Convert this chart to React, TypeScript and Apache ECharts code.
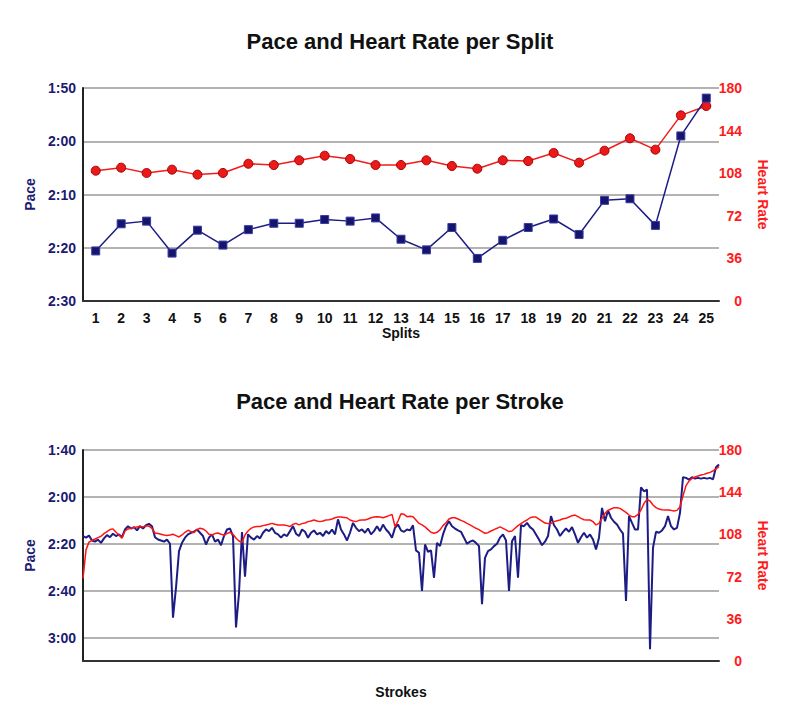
import React, { useEffect, useRef } from "react";
import * as echarts from "echarts";

// ---- Data ----
const splits = ["1","2","3","4","5","6","7","8","9","10","11","12","13","14","15","16","17","18","19","20","21","22","23","24","25"];
// pace in seconds per 500m
const splitPace = [140.6,135.5,135.0,141.0,136.7,139.5,136.6,135.4,135.4,134.7,135.0,134.4,138.4,140.4,136.2,142.0,138.6,136.2,134.6,137.5,131.1,130.8,135.8,119.0,111.9];
const splitHR = [110.1,112.7,108.2,111.0,106.8,108.2,116.0,114.9,118.9,122.8,120.0,114.9,114.9,118.9,114.1,111.8,118.9,118.3,125.1,116.9,127.0,137.5,127.9,156.9,164.8];

const strokePace = [
  136.7,137.4,136.5,138.6,139.1,138.2,139.6,137.7,136.3,137.2,
  135.7,136.7,136.0,137.2,133.9,132.5,133.5,132.9,134.3,132.5,
  133.5,132.1,131.5,132.5,137.2,138.2,138.6,139.1,138.2,140.0,
  171.5,158.7,143.1,139.6,137.4,136.0,135.3,134.9,133.9,135.3,
  136.7,140.3,137.4,136.0,139.1,138.2,140.6,136.7,133.9,133.5,
  136.7,175.7,
  161.0,135.0,154.0,136.0,137.4,138.2,136.7,137.7,135.3,133.9,
  134.6,133.2,135.3,136.0,137.4,136.0,136.7,134.6,132.5,135.7,
  136.7,133.9,134.9,137.4,135.3,134.3,136.0,135.3,136.7,134.6,
  135.7,133.9,136.0,129.6,133.9,136.0,138.6,135.3,131.1,133.2,
  134.6,133.9,135.3,133.5,136.0,134.6,132.5,134.6,131.8,133.9,
  135.3,137.4,133.2,131.8,
  134.3,134.9,133.9,134.3,132.1,142.8,143.8,160.1,140.3,143.4,
  142.8,154.5,139.6,141.0,136.0,132.5,130.4,132.5,133.5,134.3,
  134.9,137.4,140.0,139.1,138.6,139.6,141.0,165.8,146.0,143.1,
  142.4,141.0,140.0,137.4,136.0,138.6,160.1,138.9,136.7,154.5,
  132.1,132.5,131.1,132.9,133.9,136.0,138.2,140.6,139.1,136.7,
  128.2,132.1,133.9,136.7,
  134.9,133.5,134.9,132.9,136.0,139.6,137.2,135.3,137.4,136.0,
  138.2,142.4,137.4,124.7,130.4,125.8,128.9,130.6,131.8,133.9,
  135.7,164.4,128.2,131.1,133.9,133.9,115.9,117.6,116.9,185.0,
  141.7,134.9,135.3,134.3,132.5,128.2,132.5,133.9,133.2,126.8,
  111.6,111.9,112.6,111.6,112.2,111.9,112.2,111.9,112.2,111.9,
  112.5,107.4,106.2
];

const strokeHR = [
  70.5,94.8,101.4,103.0,104.1,105.3,106.4,108.7,110.4,112.1,
  112.7,109.8,107.5,104.7,110.9,112.7,113.2,113.8,114.4,115.0,
  114.4,115.3,115.0,113.2,109.2,108.7,108.1,107.5,107.0,107.5,
  108.1,107.0,105.8,107.5,109.8,111.5,110.4,109.5,112.1,113.2,
  112.7,110.9,108.1,107.5,108.7,109.2,108.1,107.5,108.7,109.8,
  108.1,104.7,
  102.4,101.2,107.5,110.9,113.2,114.4,114.7,114.7,115.5,116.1,
  116.6,117.4,116.6,116.1,116.1,116.1,115.5,114.7,116.6,117.4,
  116.1,117.2,117.7,118.9,119.4,120.3,119.4,118.9,119.4,120.3,
  120.5,121.1,122.2,122.8,122.8,122.5,122.2,120.3,119.4,118.9,
  120.0,120.3,120.3,121.1,122.2,122.8,123.1,122.8,122.2,123.1,
  124.0,125.1,114.7,119.4,
  125.6,125.1,123.1,123.4,123.1,120.3,117.4,116.1,114.4,112.1,
  109.8,109.0,109.8,111.8,115.5,118.0,121.1,122.2,122.2,121.1,
  120.0,118.9,117.4,116.1,114.7,113.2,112.1,110.4,109.0,109.5,
  110.9,112.1,113.2,114.4,113.2,111.8,110.4,110.9,113.2,115.5,
  117.2,118.9,120.3,122.2,122.8,122.8,121.1,119.4,117.7,117.2,
  117.4,118.9,119.7,120.3,
  121.4,121.7,122.8,124.0,124.5,123.1,121.7,120.5,120.3,120.3,
  118.9,116.1,117.4,121.7,126.0,128.5,129.7,130.8,130.8,130.2,
  128.5,126.8,124.5,123.1,123.1,125.1,128.8,134.5,137.9,136.5,
  133.1,130.8,129.7,129.1,128.8,128.8,128.5,128.0,128.5,131.6,
  141.0,149.6,153.5,155.8,157.0,157.8,158.7,159.2,160.1,160.9,
  162.1,163.8,165.8
];

const strokes = strokePace.map((_, i) => String(i + 1));

const FONT = "'Liberation Sans', Arial, Helvetica, sans-serif";
const NAVY = "#1b1b72";
const NAVY_LINE = "#1c1c84";
const RED = "#ff1a1a";
const GRID = "#9a9a9a";

const fmtPace = (v: number) => {
  const m = Math.floor(v / 60);
  const s = Math.round(v - m * 60);
  return `${m}:${String(s).padStart(2, "0")}`;
};

export default function App() {
  const ref = useRef<HTMLDivElement>(null);
  useEffect(() => {
    if (!ref.current) return;
    const chart = echarts.init(ref.current, undefined, { renderer: "svg" });
    const titleStyle = { fontSize: 22, fontWeight: "bold" as const, color: "#111", fontFamily: FONT };
    const paceLabel = { color: NAVY, fontWeight: "bold" as const, fontSize: 14, fontFamily: FONT, margin: 7 };
    const hrLabel = { color: RED, fontWeight: "bold" as const, fontSize: 14, fontFamily: FONT, align: "right" as const, margin: 23 };
    const nameStyleNavy = { color: NAVY, fontWeight: "bold" as const, fontSize: 14, fontFamily: FONT };
    const nameStyleRed = { color: RED, fontWeight: "bold" as const, fontSize: 14, fontFamily: FONT };
    const nameStyleBlack = { color: "#111", fontWeight: "bold" as const, fontSize: 14, fontFamily: FONT };

    chart.setOption({
      animation: false,
      backgroundColor: "#fff",
      title: [
        { text: "Pace and Heart Rate per Split", left: "center", top: 25, textStyle: titleStyle },
        { text: "Pace and Heart Rate per Stroke", left: "center", top: 385, textStyle: titleStyle },
      ],
      grid: [
        { left: 83, right: 81, top: 88, height: 213 },
        { left: 83, right: 81, top: 450, height: 211 },
      ],
      xAxis: [
        {
          gridIndex: 0, type: "category", data: splits, boundaryGap: true,
          axisLine: { onZero: false, lineStyle: { color: "#333", width: 2 } },
          axisTick: { show: false },
          axisLabel: { color: "#111", fontWeight: "bold", fontSize: 14, fontFamily: FONT, margin: 10, interval: 0 },
          name: "Splits", nameLocation: "middle", nameGap: 22, nameTextStyle: nameStyleBlack,
        },
        {
          gridIndex: 1, type: "category", data: strokes, boundaryGap: false,
          axisLine: { onZero: false, lineStyle: { color: "#333", width: 2 } },
          axisTick: { show: false },
          axisLabel: { show: false },
          name: "Strokes", nameLocation: "middle", nameGap: 24, nameTextStyle: nameStyleBlack,
        },
      ],
      yAxis: [
        {
          gridIndex: 0, type: "value", inverse: true, min: 110, max: 150, interval: 10, position: "left",
          axisLine: { show: true, lineStyle: { color: "#222", width: 2 } },
          axisTick: { show: false },
          axisLabel: { ...paceLabel, formatter: (v: number) => fmtPace(v) },
          splitLine: { lineStyle: { color: GRID, width: 1.5 } },
          name: "Pace", nameLocation: "middle", nameGap: 40, nameTextStyle: nameStyleNavy,
        },
        {
          gridIndex: 0, type: "value", min: 0, max: 180, interval: 36, position: "right",
          axisLine: { show: false }, axisTick: { show: false },
          axisLabel: hrLabel,
          splitLine: { show: false },
          name: "Heart Rate", nameLocation: "middle", nameGap: 37, nameRotate: -90, nameTextStyle: nameStyleRed,
        },
        {
          gridIndex: 1, type: "value", inverse: true, min: 100, max: 190, interval: 20, position: "left",
          axisLine: { show: true, lineStyle: { color: "#222", width: 2 } },
          axisTick: { show: false },
          axisLabel: { ...paceLabel, formatter: (v: number) => (v > 185 ? "" : fmtPace(v)) },
          splitLine: { lineStyle: { color: GRID, width: 1.5 } },
          name: "Pace", nameLocation: "middle", nameGap: 40, nameTextStyle: nameStyleNavy,
        },
        {
          gridIndex: 1, type: "value", min: 0, max: 180, interval: 36, position: "right",
          axisLine: { show: false }, axisTick: { show: false },
          axisLabel: hrLabel,
          splitLine: { show: false },
          name: "Heart Rate", nameLocation: "middle", nameGap: 37, nameRotate: -90, nameTextStyle: nameStyleRed,
        },
      ],
      series: [
        {
          type: "line", xAxisIndex: 0, yAxisIndex: 1, data: splitHR,
          symbol: "circle", symbolSize: 9,
          itemStyle: { color: "#ea1a1a", borderColor: "#a80000", borderWidth: 1 },
          lineStyle: { color: "#f21c1c", width: 1.5 },
        },
        {
          type: "line", xAxisIndex: 0, yAxisIndex: 0, data: splitPace,
          symbol: "rect", symbolSize: 8,
          itemStyle: { color: "#15156c", borderColor: "#3a3aa8", borderWidth: 1 },
          lineStyle: { color: NAVY_LINE, width: 1.5 },
        },
        {
          type: "line", xAxisIndex: 1, yAxisIndex: 2, data: strokePace,
          symbol: "none", lineStyle: { color: NAVY_LINE, width: 2 },
        },
        {
          type: "line", xAxisIndex: 1, yAxisIndex: 3, data: strokeHR,
          symbol: "none", lineStyle: { color: "#ff1414", width: 1.5 },
        },
      ],
    });
    return () => chart.dispose();
  }, []);
  return <div ref={ref} style={{ position: "fixed", left: 0, top: 0, width: 800, height: 720, background: "#fff" }} />;
}
